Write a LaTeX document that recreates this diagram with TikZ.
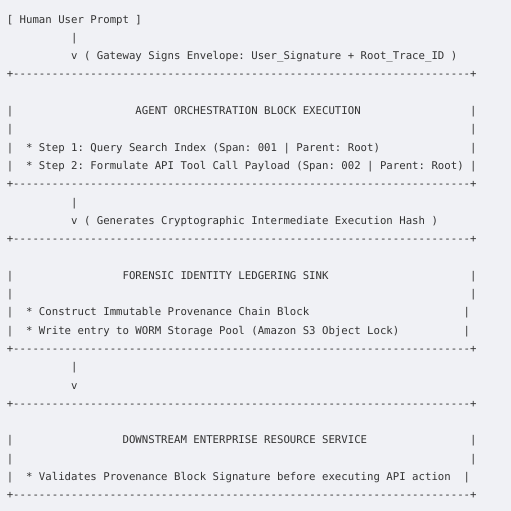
\documentclass[tikz,border=0pt]{standalone}
\usepackage{fontspec}
\newfontfamily\asciifont{DejaVu Sans Mono}
\definecolor{pagebg}{HTML}{F0F1F5}
\definecolor{inkgray}{HTML}{333333}
% fixed pitch text, one space = one column
\newcommand{\asciisetup}{\asciifont\fontsize{10.69pt}{12pt}\selectfont\frenchspacing\spaceskip=6.435pt plus 0pt minus 0pt\relax}
\tikzset{
  ascii/.style={font=\asciisetup, anchor=base west, inner sep=0pt, outer sep=0pt, text=inkgray},
}
% a box edge: plus, 71 dashes, plus
\newcommand{\boxedge}{+\foreach \i in {1,...,71}{-}+}
\begin{document}
\begin{tikzpicture}[x=6.435pt, y=-18.3pt]
    % Page
    \fill[pagebg] (-1.0567,-1.2568) rectangle (78.354,26.667);
    \useasboundingbox (-1.0567,-1.2568) rectangle (78.354,26.667);

    % Prompt
    \node[ascii] (prompt) at (0, 0) {[ Human User Prompt ]};
    \node[ascii] (barA) at (10, 1) {|};
    \node[ascii] (tipA) at (10, 2) {v ( Gateway Signs Envelope: User\_Signature + Root\_Trace\_ID )};

    % Agent block
    \node[ascii] (agentTop) at (0, 3) {\boxedge};
    \node[ascii] (agentL1) at (0, 5) {|};
    \node[ascii] (agentTitle) at (20, 5) {AGENT ORCHESTRATION BLOCK EXECUTION};
    \node[ascii] (agentR1) at (72, 5) {|};
    \node[ascii] (agentL2) at (0, 6) {|};
    \node[ascii] (agentR2) at (72, 6) {|};
    \node[ascii] (stepOne) at (0, 7) {|};
    \node[ascii] (stepOneTxt) at (3, 7) {* Step 1: Query Search Index (Span: 001 | Parent: Root)};
    \node[ascii] (agentR3) at (72, 7) {|};
    \node[ascii] (stepTwo) at (0, 8) {|};
    \node[ascii] (stepTwoTxt) at (3, 8) {* Step 2: Formulate API Tool Call Payload (Span: 002 | Parent: Root)};
    \node[ascii] (agentR4) at (72, 8) {|};
    \node[ascii] (agentBot) at (0, 9) {\boxedge};

    % Hash arrow
    \node[ascii] (barB) at (10, 10) {|};
    \node[ascii] (tipB) at (10, 11) {v ( Generates Cryptographic Intermediate Execution Hash )};

    % Ledger block
    \node[ascii] (ledgerTop) at (0, 12) {\boxedge};
    \node[ascii] (ledgerL1) at (0, 14) {|};
    \node[ascii] (ledgerTitle) at (18, 14) {FORENSIC IDENTITY LEDGERING SINK};
    \node[ascii] (ledgerR1) at (72, 14) {|};
    \node[ascii] (ledgerL2) at (0, 15) {|};
    \node[ascii] (ledgerR2) at (72, 15) {|};
    \node[ascii] (chain) at (0, 16) {|};
    \node[ascii] (chainTxt) at (3, 16) {* Construct Immutable Provenance Chain Block};
    \node[ascii] (ledgerR3) at (71, 16) {|};
    \node[ascii] (worm) at (0, 17) {|};
    \node[ascii] (wormTxt) at (3, 17) {* Write entry to WORM Storage Pool (Amazon S3 Object Lock)};
    \node[ascii] (ledgerR4) at (71, 17) {|};
    \node[ascii] (ledgerBot) at (0, 18) {\boxedge};

    % Plain arrow
    \node[ascii] (barC) at (10, 19) {|};
    \node[ascii] (tipC) at (10, 20) {v};

    % Service block
    \node[ascii] (serviceTop) at (0, 21) {\boxedge};
    \node[ascii] (serviceL1) at (0, 23) {|};
    \node[ascii] (serviceTitle) at (18, 23) {DOWNSTREAM ENTERPRISE RESOURCE SERVICE};
    \node[ascii] (serviceR1) at (72, 23) {|};
    \node[ascii] (serviceL2) at (0, 24) {|};
    \node[ascii] (serviceR2) at (72, 24) {|};
    \node[ascii] (check) at (0, 25) {|};
    \node[ascii] (checkTxt) at (3, 25) {* Validates Provenance Block Signature before executing API action};
    \node[ascii] (serviceR3) at (71, 25) {|};
    \node[ascii] (serviceBot) at (0, 26) {\boxedge};
\end{tikzpicture}
\end{document}
